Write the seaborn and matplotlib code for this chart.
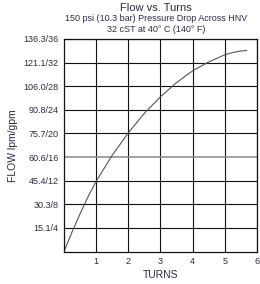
import matplotlib
matplotlib.use('Agg')
import matplotlib.pyplot as plt
import numpy as np
import pandas as pd
import seaborn as sb

turns = [0, 0.25, 0.5, 0.75, 1.0, 1.5, 2.0, 2.5, 3.0, 3.5, 4.0, 4.5, 5.0, 5.25, 5.5, 5.69]
flow = [0, 3.3, 6.4, 9.3, 11.9, 16.3, 20.1, 23.4, 26.2, 28.6, 30.6, 32.1, 33.3, 33.7, 33.95, 34.05]
yticks = [4, 8, 12, 16, 20, 24, 28, 32, 36]
ylabels = ['15.1/4', '30.3/8', '45.4/12', '60.6/16', '75.7/20', '90.8/24', '106.0/28', '121.1/32', '136.3/36']
xticks = [1, 2, 3, 4, 5, 6]

df = pd.DataFrame({'turns': turns, 'flow': flow})

sb.set_style('white')
plt.rcParams['font.family'] = ['Liberation Sans', 'DejaVu Sans']

fig = plt.figure(figsize=(2.6, 2.84), dpi=100)
ax = fig.add_axes([0.246, 0.114, 0.742, 0.749])

sb.lineplot(data=df, x='turns', y='flow', ax=ax, color='#555555', linewidth=0.8)

ax.set_xlim(0, 6)
ax.set_ylim(0, 36)
ax.set_xticks(xticks)
ax.set_yticks(yticks)
ax.set_yticklabels(ylabels)
ax.grid(True, color='#111111', linewidth=0.8)
# the 16 gpm line is lighter in the original
ax.get_ygridlines()[3].set_color('#888888')
ax.get_ygridlines()[3].set_linewidth(1.1)
ax.tick_params(axis='both', length=0, labelsize=6.5, colors='#2a2a40', pad=4)
for s in ax.spines.values():
    s.set_color('#111111')
    s.set_linewidth(0.9)

ax.set_xlabel('TURNS', fontsize=7.5, color='#2a2a40', labelpad=3)
ax.set_ylabel('FLOW lpm/gpm', fontsize=7.5, color='#2a2a40', labelpad=4)

fig.text(0.6, 0.972, 'Flow vs. Turns', ha='center', va='center', fontsize=8, color='#2a2a40')
fig.text(0.6, 0.935, '150 psi (10.3 bar) Pressure Drop Across HNV', ha='center', va='center', fontsize=6.5, color='#2a2a40')
fig.text(0.6, 0.895, '32 cST at 40\u00b0 C (140\u00b0 F)', ha='center', va='center', fontsize=6.5, color='#2a2a40')

fig.savefig('out.png', dpi=100)
